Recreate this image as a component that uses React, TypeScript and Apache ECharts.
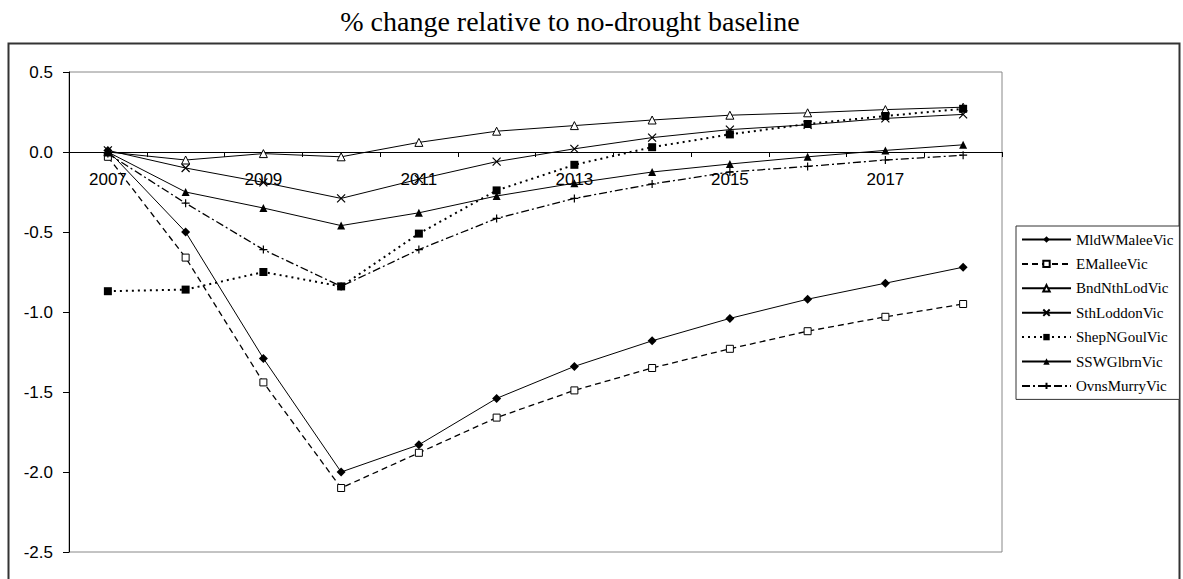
import React, { useEffect, useRef } from 'react';
import * as echarts from 'echarts';

const years = ['2007', '2008', '2009', '2010', '2011', '2012', '2013', '2014', '2015', '2016', '2017', '2018'];

const mldWMallee = [0.01, -0.5, -1.29, -2.0, -1.83, -1.54, -1.34, -1.18, -1.04, -0.92, -0.82, -0.72];
const eMallee = [-0.03, -0.66, -1.44, -2.1, -1.88, -1.66, -1.49, -1.35, -1.23, -1.12, -1.03, -0.95];
const bndNthLod = [0.0, -0.05, -0.01, -0.03, 0.06, 0.13, 0.165, 0.2, 0.23, 0.245, 0.265, 0.28];
const sthLoddon = [0.01, -0.1, -0.19, -0.29, -0.17, -0.06, 0.02, 0.09, 0.14, 0.17, 0.21, 0.235];
const shepNGoul = [-0.87, -0.86, -0.75, -0.84, -0.51, -0.24, -0.08, 0.03, 0.11, 0.175, 0.225, 0.27];
const sswGlbrn = [0.0, -0.25, -0.35, -0.46, -0.38, -0.275, -0.195, -0.125, -0.075, -0.03, 0.01, 0.045];
const ovnsMurry = [-0.01, -0.32, -0.61, -0.84, -0.61, -0.415, -0.29, -0.2, -0.125, -0.09, -0.05, -0.02];

const seriesNames = ['MldWMaleeVic', 'EMalleeVic', 'BndNthLodVic', 'SthLoddonVic', 'ShepNGoulVic', 'SSWGlbrnVic', 'OvnsMurryVic'];

const titleText = '% change relative to no-drought baseline';

const X_PATH = 'path://M0,0L10,10M10,0L0,10';
const PLUS_PATH = 'path://M5,0L5,10M0,5L10,5';

export default function App() {
  const ref = useRef<HTMLDivElement>(null);
  useEffect(() => {
    const chart = echarts.init(ref.current!, null, { renderer: 'svg' });
    const mk = (name: string, data: number[], symbol: string, symbolSize: number, itemStyle: any, lineStyle: any) => ({
      name,
      type: 'line',
      data,
      symbol,
      symbolSize,
      itemStyle,
      lineStyle,
      emphasis: { disabled: true },
      z: 3,
    });
    chart.setOption({
      animation: false,
      backgroundColor: '#fff',
      graphic: [
        {
          type: 'rect',
          silent: true,
          z: -10,
          shape: { x: 8.5, y: 43.5, width: 1171, height: 580 },
          style: { fill: 'none', stroke: '#333', lineWidth: 2 },
        },
        {
          type: 'text',
          x: 570,
          y: 21,
          silent: true,
          style: {
            text: titleText,
            fontFamily: 'Liberation Serif',
            fontSize: 28,
            fill: '#000',
            align: 'center',
            verticalAlign: 'middle',
          },
        },
      ],
      grid: {
        left: 69,
        right: 181,
        top: 72,
        bottom: 27,
        show: true,
        borderColor: '#888',
        borderWidth: 1,
        backgroundColor: 'transparent',
        containLabel: false,
        outerBoundsMode: 'none',
      },
      legend: {
        orient: 'vertical',
        left: 1016,
        top: 226,
        padding: [6, 6, 6, 5],
        itemGap: 9.4,
        itemWidth: 49,
        itemHeight: 8,
        borderColor: '#333',
        borderWidth: 1,
        backgroundColor: '#fff',
        textStyle: { fontFamily: 'Liberation Serif', fontSize: 15, color: '#000' },
        data: seriesNames,
      },
      xAxis: {
        type: 'category',
        data: years,
        boundaryGap: true,
        position: 'bottom',
        offset: -400,
        axisLine: { onZero: false, lineStyle: { color: '#000', width: 1 } },
        axisTick: { show: true, interval: 0, length: 5, inside: false, lineStyle: { color: '#000' } },
        axisLabel: {
          interval: 1,
          margin: 19,
          fontFamily: 'Liberation Sans',
          fontSize: 17,
          color: '#000',
        },
        splitLine: { show: false },
      },
      yAxis: {
        type: 'value',
        min: -2.5,
        max: 0.5,
        interval: 0.5,
        axisLine: { show: true, onZero: false, lineStyle: { color: '#000', width: 1 } },
        axisTick: { show: true, length: 6, lineStyle: { color: '#000' } },
        axisLabel: {
          margin: 16,
          fontFamily: 'Liberation Sans',
          fontSize: 17,
          color: '#000',
          formatter: (v: number) => v.toFixed(1),
        },
        splitLine: { show: false },
      },
      series: [
        mk(seriesNames[0], mldWMallee, 'diamond', 9, { color: '#000' }, { color: '#000', width: 1, type: 'solid' }),
        mk(seriesNames[1], eMallee, 'rect', 7, { color: '#fff', borderColor: '#000', borderWidth: 1 }, { color: '#000', width: 1.3, type: [6, 4] }),
        mk(seriesNames[2], bndNthLod, 'triangle', 8, { color: '#fff', borderColor: '#000', borderWidth: 1 }, { color: '#000', width: 1, type: 'solid' }),
        mk(seriesNames[3], sthLoddon, X_PATH, 8, { color: '#000', borderColor: '#000', borderWidth: 1.2 }, { color: '#000', width: 1, type: 'solid' }),
        mk(seriesNames[4], shepNGoul, 'rect', 8, { color: '#000' }, { color: '#000', width: 2, type: [2, 4] }),
        mk(seriesNames[5], sswGlbrn, 'triangle', 8, { color: '#000' }, { color: '#000', width: 1, type: 'solid' }),
        mk(seriesNames[6], ovnsMurry, PLUS_PATH, 8, { color: '#000', borderColor: '#000', borderWidth: 1.2 }, { color: '#000', width: 1.3, type: [8, 3, 2, 3] }),
      ],
    });
    return () => chart.dispose();
  }, []);
  return (
    <div
      ref={ref}
      style={{ position: 'absolute', left: 0, top: 0, width: 1183, height: 579, background: '#fff' }}
    />
  );
}
